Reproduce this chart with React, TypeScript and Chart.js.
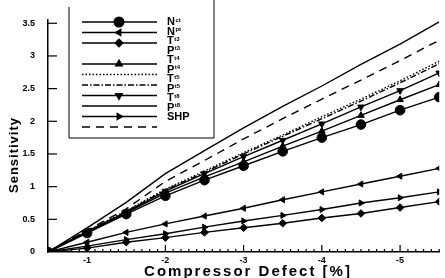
import React, { useEffect, useRef } from "react";
import { Chart, registerables } from "chart.js";
import { drawPoint } from "chart.js/helpers";

Chart.register(...registerables);

const defects = [-0.5, -1, -1.5, -2, -2.5, -3, -3.5, -4, -4.5, -5, -5.5];
const xTickValues = [-1, -2, -3, -4, -5];
const yTickValues = [0, 0.5, 1, 1.5, 2, 2.5, 3, 3.5];

const Nct = [0, 0.29, 0.58, 0.86, 1.1, 1.32, 1.54, 1.75, 1.95, 2.17, 2.37];
const Npt = [0, 0.15, 0.3, 0.43, 0.55, 0.67, 0.8, 0.92, 1.04, 1.16, 1.28];
const Tt3 = [0, 0.06, 0.15, 0.22, 0.3, 0.37, 0.44, 0.52, 0.59, 0.68, 0.77];
const Tt4 = [0, 0.3, 0.6, 0.9, 1.15, 1.38, 1.62, 1.85, 2.09, 2.33, 2.56];
const Pt4 = [0, 0.32, 0.63, 0.96, 1.24, 1.52, 1.79, 2.07, 2.34, 2.62, 2.92];
const Tt5 = [0, 0.31, 0.62, 0.95, 1.22, 1.5, 1.77, 2.04, 2.31, 2.59, 2.88];
const Pt5 = [0, 0.31, 0.61, 0.93, 1.2, 1.46, 1.71, 1.96, 2.22, 2.47, 2.74];
const Tt8 = [0, 0.37, 0.76, 1.2, 1.55, 1.9, 2.23, 2.54, 2.87, 3.18, 3.52];
const Pt8 = [0, 0.09, 0.19, 0.28, 0.38, 0.475, 0.56, 0.65, 0.75, 0.83, 0.92];
const SHP = [0, 0.33, 0.66, 1.08, 1.4, 1.73, 2.04, 2.34, 2.63, 2.93, 3.24];

const legendNames = ["N", "N", "T", "P", "T", "P", "T", "P", "T", "P", "SHP"];
const legendSubs = ["ct", "pt", "t3", "t3", "t4", "t4", "t5", "t5", "t8", "t8", ""];
const legendKeys = ["Nct", "Npt", "Tt3", "Pt3", "Tt4", "Pt4", "Tt5", "Pt5", "Tt8", "Pt8", "SHP"];

const FONT = '"Liberation Sans", Arial, sans-serif';

function series(label: string, values: number[], style: any) {
  return {
    label,
    data: values.map((v, i) => ({ x: defects[i], y: v })),
    borderColor: "#000",
    backgroundColor: "#000",
    pointBackgroundColor: "#000",
    pointBorderColor: "#000",
    borderWidth: 1.4,
    pointBorderWidth: 1,
    pointRadius: 0,
    tension: 0,
    ...style,
  };
}

const decor = {
  id: "decor",
  afterDatasetsDraw(chart: any) {
    const { ctx, chartArea, scales } = chart;
    const { left, bottom } = chartArea;
    const x = scales.x;
    const y = scales.y;
    ctx.save();
    ctx.strokeStyle = "#000";
    ctx.fillStyle = "#000";
    ctx.lineWidth = 1.2;
    ctx.setLineDash([]);
    // inward x ticks
    for (let i = 5; i <= 55; i++) {
      const px = x.getPixelForValue(-i / 10);
      const major = i % 10 === 0;
      ctx.beginPath();
      ctx.moveTo(px, bottom);
      ctx.lineTo(px, bottom - (major ? 7 : 3));
      ctx.stroke();
    }
    // inward y ticks
    yTickValues.forEach((v) => {
      if (v === 0) return;
      const py = y.getPixelForValue(v);
      ctx.beginPath();
      ctx.moveTo(left, py);
      ctx.lineTo(left + 9, py);
      ctx.stroke();
    });

    // legend frame
    const bx0 = left + 21;
    const bx1 = left + 166;
    const by0 = 7;
    const by1 = 138;
    ctx.lineWidth = 1;
    ctx.beginPath();
    ctx.moveTo(bx0, by0);
    ctx.lineTo(bx0, by1);
    ctx.lineTo(bx1, by1);
    ctx.lineTo(bx1, 0);
    ctx.stroke();

    const datasets = chart.data.datasets;
    legendKeys.forEach((key, i) => {
      const labelY = 22 + i * 9.5;
      ctx.font = `bold 11px ${FONT}`;
      ctx.textAlign = "left";
      ctx.textBaseline = "middle";
      const tx = bx0 + 98;
      ctx.fillText(legendNames[i], tx, labelY);
      const w = ctx.measureText(legendNames[i]).width;
      if (legendSubs[i]) {
        ctx.font = `bold 6px ${FONT}`;
        ctx.fillText(legendSubs[i], tx + w + 0.5, labelY - 2);
      }
      const ds = datasets.find((d: any) => d.label === key);
      if (!ds) return;
      const rowY = 22 + i * 10.5;
      ctx.lineWidth = 1.4;
      ctx.setLineDash(ds.borderDash || []);
      ctx.beginPath();
      ctx.moveTo(bx0 + 13, rowY);
      ctx.lineTo(bx0 + 88, rowY);
      ctx.stroke();
      ctx.setLineDash([]);
      if (ds.pointRadius > 0) {
        drawPoint(
          ctx,
          {
            pointStyle: ds.pointStyle || "circle",
            rotation: ds.pointRotation || 0,
            radius: ds.pointRadius,
            borderWidth: 1,
          },
          bx0 + 50,
          rowY
        );
      }
    });

    // axis titles
    ctx.fillStyle = "#000";
    ctx.textAlign = "center";
    ctx.textBaseline = "middle";
    ctx.font = `bold 15px ${FONT}`;
    try {
      (ctx as any).letterSpacing = "2px";
    } catch (e) {}
    ctx.fillText("Compressor Defect [%]", 248, 272);
    try {
      (ctx as any).letterSpacing = "1px";
    } catch (e) {}
    ctx.translate(14, 155);
    ctx.rotate(-Math.PI / 2);
    ctx.font = `bold 13px ${FONT}`;
    ctx.fillText("Sensitivity", 0, 0);
    ctx.restore();
  },
};

export default function App() {
  const ref = useRef<HTMLCanvasElement | null>(null);
  useEffect(() => {
    if (!ref.current) return;
    const chart = new Chart(ref.current, {
      type: "line",
      data: {
        datasets: [
          series("Nct", Nct, { pointRadius: 4.8, pointStyle: "circle" }),
          series("Npt", Npt, { pointRadius: 3.5, pointStyle: "triangle", pointRotation: -90 }),
          series("Tt3", Tt3, { pointRadius: 3.8, pointStyle: "rectRot" }),
          series("Tt4", Tt4, { pointRadius: 3.8, pointStyle: "triangle" }),
          series("Pt4", Pt4, { borderDash: [1.5, 2] }),
          series("Tt5", Tt5, { borderDash: [6, 2, 1.5, 2] }),
          series("Pt5", Pt5, { pointRadius: 3.8, pointStyle: "triangle", pointRotation: 180 }),
          series("Tt8", Tt8, {}),
          series("Pt8", Pt8, { pointRadius: 3.5, pointStyle: "triangle", pointRotation: 90 }),
          series("SHP", SHP, { borderDash: [8, 6] }),
        ],
      },
      options: {
        animation: false,
        responsive: false,
        maintainAspectRatio: false,
        layout: { padding: { top: 20, right: 0, left: 0, bottom: 0 } },
        plugins: { legend: { display: false }, tooltip: { enabled: false } },
        scales: {
          x: {
            type: "linear",
            reverse: true,
            min: -5.5,
            max: -0.5,
            grid: { display: false },
            border: { display: true, color: "#000", width: 1.5 },
            afterBuildTicks: (s: any) => {
              s.ticks = xTickValues.map((v) => ({ value: v }));
            },
            afterFit: (s: any) => {
              s.height = 26;
            },
            ticks: {
              color: "#000",
              padding: -5,
              autoSkip: false,
              maxRotation: 0,
              font: { family: FONT, weight: "bold", size: 9 },
              callback: (v: any) => String(v),
            },
          },
          y: {
            type: "linear",
            min: 0,
            max: 3.55,
            grid: { display: false },
            border: { display: true, color: "#000", width: 1.5 },
            afterBuildTicks: (s: any) => {
              s.ticks = yTickValues.map((v) => ({ value: v }));
            },
            afterFit: (s: any) => {
              s.width = 48;
            },
            ticks: {
              color: "#000",
              padding: 5,
              autoSkip: false,
              font: { family: FONT, weight: "bold", size: 9 },
              callback: (v: any) => String(v),
            },
          },
        },
      },
      plugins: [decor],
    } as any);
    return () => chart.destroy();
  }, []);
  return (
    <div style={{ position: "fixed", left: 0, top: 0, width: 445, height: 278, background: "#fff" }}>
      <canvas ref={ref} width={445} height={278} style={{ display: "block" }} />
    </div>
  );
}
